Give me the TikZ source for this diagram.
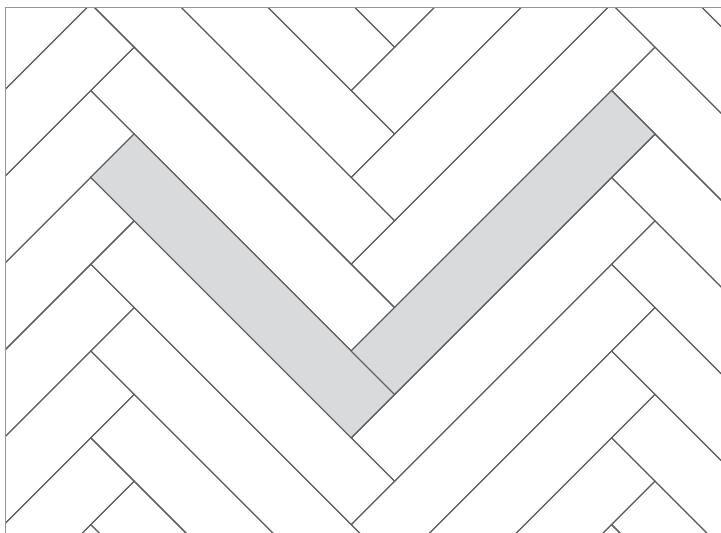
\documentclass[tikz,border=0pt]{standalone}
\definecolor{lineg}{RGB}{95,95,95}
\definecolor{frameg}{RGB}{150,150,150}
\definecolor{tileg}{RGB}{217,218,220}
\tikzset{
  plank/.style={draw=lineg, line width=1.1pt, line join=miter},
  hiplank/.style={plank, fill=tileg},
  framestyle/.style={draw=frameg, line width=1pt}
}
\begin{document}
\begin{tikzpicture}[x=1pt,y=-1pt]
\useasboundingbox (0,0) rectangle (721,533);
\pgfmathsetmacro\ha{43.4}
\pgfmathsetmacro\hl{260.4}
\begin{scope}
\clip (5.5,7) rectangle (725,540);
\foreach \i in {-2,...,2}{
  \foreach \j in {-10,...,8}{
    \pgfmathsetmacro\ox{90.8+2*\hl*\i}
    \pgfmathsetmacro\oy{177.4+2*\ha*\j}
    \draw[plank] (\ox,\oy) -- ++(\hl,\hl) -- ++(\ha,-\ha) -- ++(-\hl,-\hl) -- cycle;
    \draw[plank] (\ox+\hl,\oy+\hl-2*\ha) -- ++(\ha,\ha) -- ++(\hl,-\hl) -- ++(-\ha,-\ha) -- cycle;
  }
}
\path[hiplank] (90.8,177.4) -- ++(\hl,\hl) -- ++(\ha,-\ha) -- ++(-\hl,-\hl) -- cycle;
\path[hiplank] (90.8+\hl,177.4+\hl-2*\ha) -- ++(\ha,\ha) -- ++(\hl,-\hl) -- ++(-\ha,-\ha) -- cycle;
\end{scope}
\draw[framestyle] (725,7) -- (5.5,7) -- (5.5,540);
\end{tikzpicture}
\end{document}
